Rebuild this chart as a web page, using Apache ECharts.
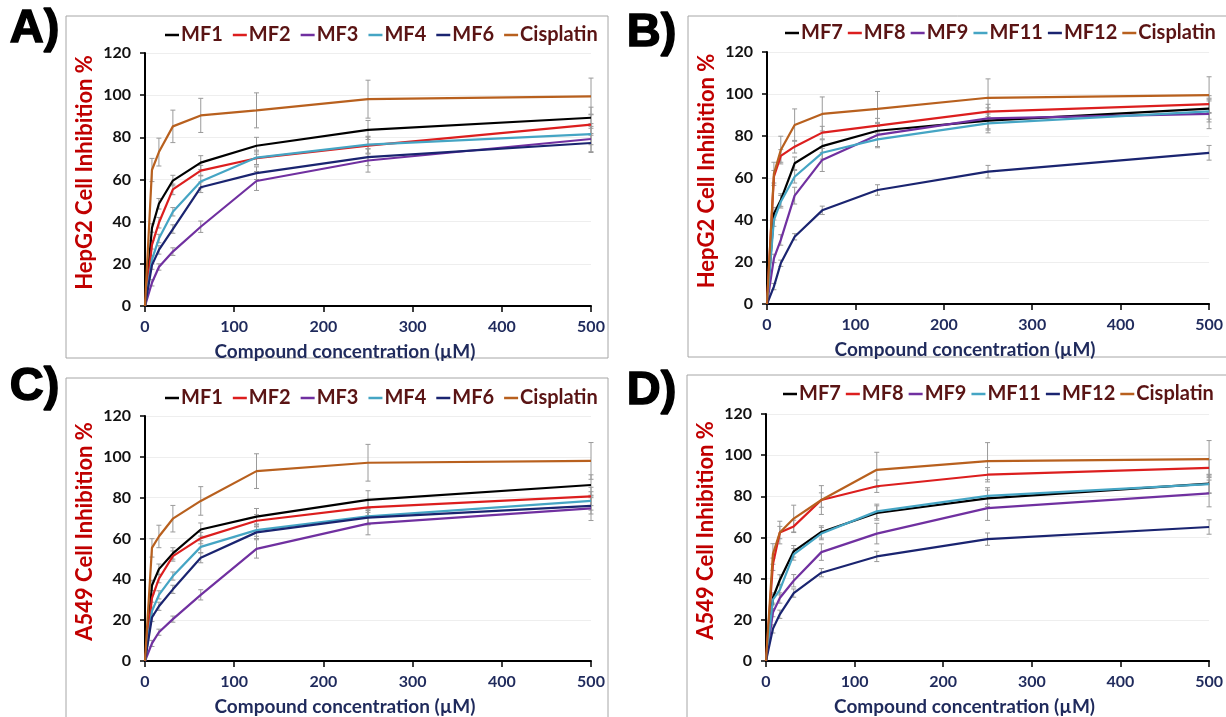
<!DOCTYPE html>
<html><head><meta charset="utf-8">
<script src="https://cdn.jsdelivr.net/npm/echarts@6/dist/echarts.min.js"></script>
<style>html,body{margin:0;padding:0;background:#fff;}#c{width:1226px;height:717px;}</style>
</head><body><div id="c"></div>
<script>
// ---------- DATA ----------
const conc = [0, 7.8, 15.6, 31.25, 62.5, 125, 250, 500];
const xTicks = [0, 100, 200, 300, 400, 500];
const yTicks = [0, 20, 40, 60, 80, 100, 120];

// Panel A: HepG2
const A_MF1 = [0, 37, 48.5, 59.5, 68, 76, 83.5, 89.3];
const A_MF2 = [0, 29, 39.5, 55.3, 64.2, 70.1, 76.1, 86];
const A_MF3 = [0, 11, 18.5, 25.8, 37.6, 59.3, 69, 79.2];
const A_MF4 = [0, 22, 32, 44.7, 59, 70.4, 76.5, 81.5];
const A_MF6 = [0, 19.4, 26.6, 36.5, 56.3, 63, 70.6, 77.3];
const A_Cis = [0, 64.5, 73, 85.2, 90.4, 92.8, 98.1, 99.4];
const A_MF1_err = [0, 2, 2.5, 2.5, 3.3, 4, 4.5, 5];
const A_MF2_err = [0, 2, 2.5, 2.5, 2.5, 3, 4, 5];
const A_MF3_err = [0, 1.5, 1.5, 1.8, 2.7, 4.5, 5.5, 6];
const A_MF4_err = [0, 2, 2, 2, 3, 3.5, 4, 5];
const A_MF6_err = [0, 2, 2, 2, 2.5, 3, 4, 4.5];
const A_Cis_err = [0, 5.5, 6.6, 7.7, 8.1, 8.3, 9, 8.7];

// Panel B: HepG2
const B_MF7 = [0, 43, 49.5, 67, 75.2, 82.5, 87.3, 93];
const B_MF8 = [0, 60.6, 70.5, 74.9, 81.6, 84.9, 91.6, 95.2];
const B_MF9 = [0, 21.7, 30.5, 51.6, 68.6, 80.5, 88.4, 90.5];
const B_MF11 = [0, 40, 48.7, 60.6, 72, 78.4, 86, 91.7];
const B_MF12 = [0, 8.3, 19.4, 32, 44.6, 54.3, 63, 72];
const B_Cis = [0, 62, 73.3, 85.2, 90.5, 92.9, 98.2, 99.5];
const B_MF7_err = [0, 3, 3, 3, 3, 4, 4.5, 5];
const B_MF8_err = [0, 3, 3, 3, 3, 3.5, 3.5, 4];
const B_MF9_err = [0, 2, 2.5, 4, 5.5, 5.5, 5, 7];
const B_MF11_err = [0, 3, 3, 3, 3, 4, 4.5, 5];
const B_MF12_err = [0, 1.5, 1.5, 1.5, 2, 2.5, 3, 3.5];
const B_Cis_err = [0, 5.5, 6.6, 7.7, 8.1, 8.3, 9, 8.7];

// Panel C: A549
const C_MF1 = [0, 37, 45, 52.7, 64.4, 70.7, 78.9, 86.2];
const C_MF2 = [0, 30.8, 40.3, 51.4, 60.2, 68.7, 75.2, 80.6];
const C_MF3 = [0, 8.6, 14.1, 20.5, 32.4, 54.9, 67.3, 74.8];
const C_MF4 = [0, 24.4, 32.4, 41.6, 55.9, 64.1, 70.8, 78.4];
const C_MF6 = [0, 21.3, 26.8, 35.1, 50.6, 63, 70.2, 76];
const C_Cis = [0, 55.4, 61, 69.7, 78.4, 93, 97.1, 98];
const C_MF1_err = [0, 2.5, 2.5, 2.8, 3.2, 4, 4.5, 5];
const C_MF2_err = [0, 2, 2, 2.5, 2.8, 3, 4, 4.5];
const C_MF3_err = [0, 1.5, 1.5, 1.5, 2.5, 4.5, 5.5, 6];
const C_MF4_err = [0, 2, 2, 2, 3, 3, 4, 4.5];
const C_MF6_err = [0, 2, 2, 2, 2.5, 3, 3.5, 4];
const C_Cis_err = [0, 4.5, 5.5, 6.5, 7, 8.5, 9, 9];

// Panel D: A549
const D_MF7 = [0, 30.6, 39.4, 53.3, 62.7, 71.9, 79, 86.2];
const D_MF8 = [0, 47, 62.4, 65.4, 78.2, 84.9, 90.5, 93.8];
const D_MF9 = [0, 23.5, 30.6, 39, 52.9, 61.9, 74.3, 81.4];
const D_MF11 = [0, 29.8, 34.6, 51.8, 61.9, 72.7, 80.2, 85.9];
const D_MF12 = [0, 15.6, 22.7, 33, 42.9, 50.8, 59.2, 65.1];
const D_Cis = [0, 52, 62.4, 69.2, 78.2, 92.9, 97.1, 98.1];
const D_MF7_err = [0, 2.5, 2.5, 2.8, 3, 3.5, 4, 4.5];
const D_MF8_err = [0, 3, 3, 3, 3.5, 3, 3.5, 4];
const D_MF9_err = [0, 2, 2.5, 3, 4, 5, 6, 6.5];
const D_MF11_err = [0, 2.5, 2.5, 2.8, 3, 3.5, 4, 4.5];
const D_MF12_err = [0, 2, 2, 2, 2, 2.5, 3, 3.5];
const D_Cis_err = [0, 5, 5.5, 6.5, 7, 8.5, 9, 9];

const namesAC = ['MF1', 'MF2', 'MF3', 'MF4', 'MF6', 'Cisplatin'];
const namesBD = ['MF7', 'MF8', 'MF9', 'MF11', 'MF12', 'Cisplatin'];
const panelLetters = ['A)', 'B)', 'C)', 'D)'];
const yTitles = ['HepG2 Cell Inhibition %', 'HepG2 Cell Inhibition %', 'A549 Cell Inhibition %', 'A549 Cell Inhibition %'];
const xTitle = 'Compound concentration (µM)';

// ---------- STYLE / LAYOUT ----------
const colors = ['#000000', '#dc1e1e', '#7030a0', '#45a5c4', '#1a2470', '#b8601e'];
const FONT = 'Lato';
const panels = [
  {names: namesAC, vals: [A_MF1, A_MF2, A_MF3, A_MF4, A_MF6, A_Cis], errs: [A_MF1_err, A_MF2_err, A_MF3_err, A_MF4_err, A_MF6_err, A_Cis_err],
   grid: {left: 145, top: 53, width: 446, height: 253}, legend: {left: 160, top: 20, gap: 10}, frame: [66, 16, 542, 342], letter: [9, 5]},
  {names: namesBD, vals: [B_MF7, B_MF8, B_MF9, B_MF11, B_MF12, B_Cis], errs: [B_MF7_err, B_MF8_err, B_MF9_err, B_MF11_err, B_MF12_err, B_Cis_err],
   grid: {left: 767, top: 52, width: 443, height: 252}, legend: {left: 780, top: 18, gap: 5}, frame: [688, 16, 560, 341], letter: [626, 9]},
  {names: namesAC, vals: [C_MF1, C_MF2, C_MF3, C_MF4, C_MF6, C_Cis], errs: [C_MF1_err, C_MF2_err, C_MF3_err, C_MF4_err, C_MF6_err, C_Cis_err],
   grid: {left: 145, top: 416, width: 446, height: 252}, legend: {left: 160, top: 383, gap: 10}, frame: [66, 378, 542, 360], letter: [9, 363]},
  {names: namesBD, vals: [D_MF7, D_MF8, D_MF9, D_MF11, D_MF12, D_Cis], errs: [D_MF7_err, D_MF8_err, D_MF9_err, D_MF11_err, D_MF12_err, D_Cis_err],
   grid: {left: 766, top: 414, width: 445, height: 252}, legend: {left: 778, top: 379, gap: 5}, frame: [687, 375, 560, 360], letter: [626, 367]}
];

const grid = [], xAxis = [], yAxis = [], legend = [], series = [], graphic = [];
panels.forEach((p, i) => {
  grid.push(Object.assign({containLabel: false}, p.grid));
  xAxis.push({
    type: 'value', gridIndex: i, min: xTicks[0], max: xTicks[xTicks.length - 1], interval: xTicks[1] - xTicks[0],
    axisLine: {show: true, onZero: false, lineStyle: {color: '#000', width: 2}},
    axisTick: {show: true, length: 6, lineStyle: {color: '#000', width: 1.5}},
    splitLine: {show: false},
    axisLabel: {color: '#1f2a5c', fontWeight: 'bold', fontSize: 16, fontFamily: FONT, margin: 13},
    name: xTitle, nameLocation: 'middle', nameGap: 36,
    nameTextStyle: {color: '#1f2a5c', fontWeight: 'bold', fontSize: 19, fontFamily: FONT, padding: [0, 46, 0, 0]}
  });
  yAxis.push({
    type: 'value', gridIndex: i, min: yTicks[0], max: yTicks[yTicks.length - 1], interval: yTicks[1] - yTicks[0],
    axisLine: {show: true, lineStyle: {color: '#000', width: 2}},
    axisTick: {show: true, length: 5, lineStyle: {color: '#000', width: 1.5}},
    splitLine: {show: true, lineStyle: {color: '#eeeeee', width: 1}},
    axisLabel: {color: '#111', fontWeight: 'bold', fontSize: 16, fontFamily: FONT, margin: 14},
    name: yTitles[i], nameLocation: 'middle', nameGap: 49,
    nameTextStyle: {color: '#c00000', fontWeight: 'bold', fontSize: 22, fontFamily: FONT, padding: [0, 0, 0, 14]}
  });
  legend.push({
    left: p.legend.left, top: p.legend.top, width: 800, orient: 'horizontal', data: p.names, icon: 'rect',
    itemWidth: 14, itemHeight: 2.5, itemGap: p.legend.gap, selectedMode: false,
    textStyle: {color: '#5a1414', fontSize: 20, fontWeight: 'bold', fontFamily: FONT, padding: [0, 0, 0, -3]}
  });
  p.names.forEach((nm, k) => {
    series.push({
      type: 'custom', name: nm + '_err', xAxisIndex: i, yAxisIndex: i, silent: true, z: 2,
      coordinateSystem: 'cartesian2d', encode: {x: 0, y: [1, 2]},
      data: conc.map((x, j) => [x, p.vals[k][j] - p.errs[k][j], p.vals[k][j] + p.errs[k][j]]).filter((d, j) => p.errs[k][j] > 0),
      renderItem: function (params, api) {
        const x = api.value(0);
        const a = api.coord([x, api.value(1)]);
        const b = api.coord([x, api.value(2)]);
        const w = 2.5;
        const st = {stroke: '#9a9a9a', lineWidth: 1};
        return {type: 'group', children: [
          {type: 'line', shape: {x1: a[0], y1: a[1], x2: b[0], y2: b[1]}, style: st},
          {type: 'line', shape: {x1: a[0] - w, y1: a[1], x2: a[0] + w, y2: a[1]}, style: st},
          {type: 'line', shape: {x1: b[0] - w, y1: b[1], x2: b[0] + w, y2: b[1]}, style: st}
        ]};
      }
    });
  });
  p.names.forEach((nm, k) => {
    series.push({
      type: 'line', name: nm, xAxisIndex: i, yAxisIndex: i, z: 3,
      data: conc.map((x, j) => [x, p.vals[k][j]]),
      symbol: 'none', color: colors[k], lineStyle: {width: 2.2, color: colors[k]}, animation: false
    });
  });
  graphic.push({type: 'rect', shape: {x: p.frame[0], y: p.frame[1], width: p.frame[2], height: p.frame[3]},
    style: {fill: 'none', stroke: '#a6a6a6', lineWidth: 1}, z: -1, silent: true});
  graphic.push({type: 'text', left: p.letter[0], top: p.letter[1],
    style: {text: panelLetters[i], fill: '#000', stroke: '#000', lineWidth: 1.5, font: 'bold 47px "Liberation Sans", Arial, sans-serif'}, silent: true});
});

const chart = echarts.init(document.getElementById('c'), null, {renderer: 'canvas'});
chart.setOption({
  animation: false, backgroundColor: '#ffffff',
  grid, xAxis, yAxis, legend, series, graphic
});
</script></body></html>
